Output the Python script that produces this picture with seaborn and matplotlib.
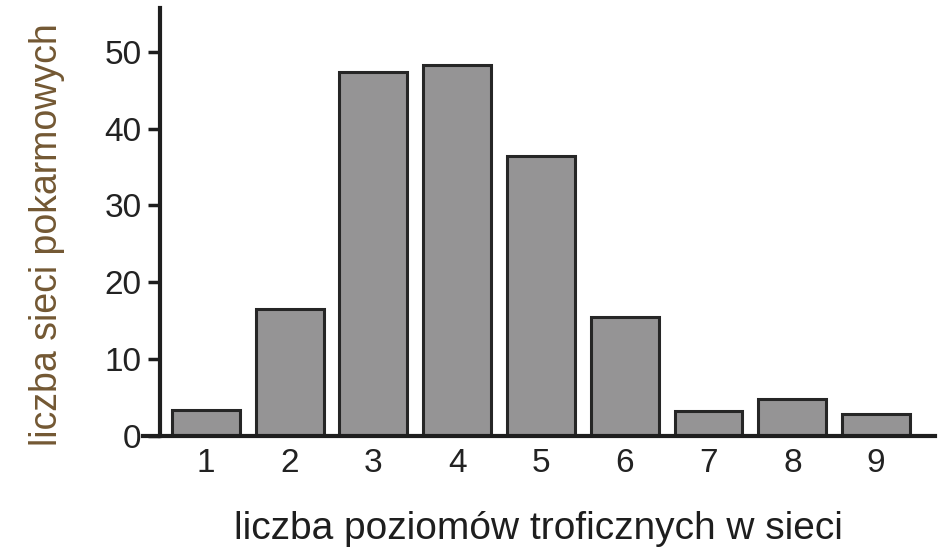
import matplotlib
matplotlib.use("Agg")
import matplotlib.pyplot as plt
import seaborn as sns
import pandas as pd

levels = ["1", "2", "3", "4", "5", "6", "7", "8", "9"]
counts = [3.4, 16.5, 47.4, 48.3, 36.4, 15.5, 3.2, 4.8, 2.9]
yticks = [0, 10, 20, 30, 40, 50]

sns.set_style("white")
plt.rcParams['font.family'] = ['Liberation Sans', 'DejaVu Sans']

df = pd.DataFrame({"level": levels, "count": counts})

fig = plt.figure(figsize=(9.5, 5.5), dpi=100)
ax = fig.add_axes([0.1505, 0.2073, 0.984 - 0.1505, 0.9855 - 0.2073])

sns.barplot(data=df, x="level", y="count", order=levels, color="#959495",
            saturation=1, width=0.81, edgecolor="#262626", linewidth=2.2, ax=ax)

ax.set_xlim(-0.75, 8.7)
ax.set_ylim(0, 55.7)
ax.set_yticks(yticks)
ax.set_yticklabels([str(v) for v in yticks])

ax.spines['top'].set_visible(False)
ax.spines['right'].set_visible(False)
ax.spines['left'].set_position(('data', -0.55))
ax.spines['left'].set_linewidth(3)
ax.spines['bottom'].set_linewidth(3)
ax.spines['left'].set_color("#1e1e1e")
ax.spines['bottom'].set_color("#1e1e1e")

ax.tick_params(axis='y', direction='out', length=9, width=2.5, color="#1e1e1e",
               labelsize=24, pad=4, labelcolor="#222222", left=True)
ax.tick_params(axis='x', length=0, labelsize=24, pad=9, labelcolor="#222222")

ax.set_xlabel("liczba poziomów troficznych w sieci", fontsize=28, color="#1e1e1e", labelpad=23)
ax.set_ylabel("liczba sieci pokarmowych", fontsize=27, color="#735833")
ax.yaxis.set_label_coords(-0.098, 0.47)

fig.savefig("out.png", dpi=100)
